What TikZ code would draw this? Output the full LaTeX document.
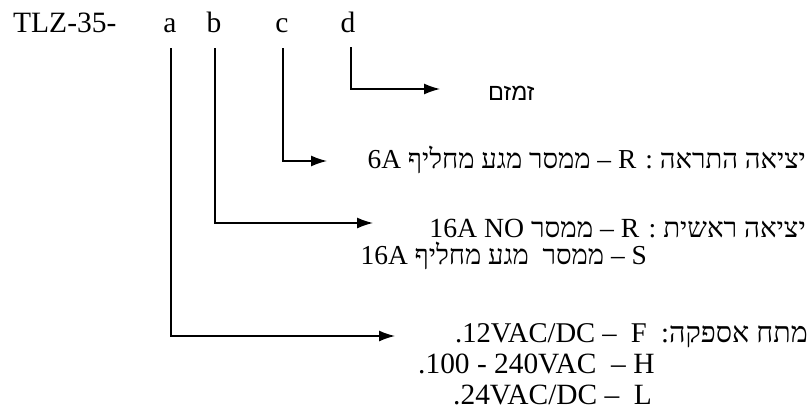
\documentclass[tikz,border=0pt]{standalone}
\usepackage{fontspec}
\setmainfont{Liberation Serif}
\newfontfamily\heb[Script=Hebrew]{Liberation Serif}
\newfontfamily\hebsans[Script=Hebrew]{Liberation Sans}
\TeXXeTstate=1
\usetikzlibrary{arrows.meta}
\newcommand{\fsz}[1]{\fontsize{#1}{#1}\selectfont}
\tikzset{
  conn/.style={line width=1.4pt,-{Latex[length=16pt,width=11pt]}},
  lbl/.style={inner sep=0pt,anchor=base east},
  top/.style={inner sep=0pt,font=\rmfamily\fsz{29.5}},
}
\begin{document}
\begin{tikzpicture}[x=1pt,y=-1pt]
\useasboundingbox (0,0) rectangle (809,418);
% header
\node[top,anchor=base west] (tlz) at (13,32) {TLZ-35-};
\node[top,anchor=base] (a) at (170,32) {a};
\node[top,anchor=base] (b) at (214,32) {b};
\node[top,anchor=base] (c) at (282,32) {c};
\node[top,anchor=base] (d) at (348,32) {d};
% start points below letters
\coordinate (a0) at (171,48);
\coordinate (b0) at (215,48);
\coordinate (c0) at (283,48);
\coordinate (d0) at (351,47);
% arrow ends
\coordinate (dend) at (440,89);
\coordinate (cend) at (327,161);
\coordinate (bend) at (373,223);
\coordinate (aend) at (395,336);
\draw[conn] (d0) |- (dend);
\draw[conn] (c0) |- (cend);
\draw[conn] (b0) |- (bend);
\draw[conn] (a0) |- (aend);
% texts
\node[inner sep=0pt,anchor=base west,font=\hebsans\fsz{23.5}] (td) at (488,100) {\beginR זמזם\endR};
\node[lbl,font=\heb\fsz{27.4}] (tc) at (806,168) {\beginR יציאה התראה : R – ממסר מגע מחליף 6A\endR};
\node[lbl,font=\heb\fsz{27.7}] (tb1) at (806,237) {\beginR יציאה ראשית : R – ממסר \beginL 16A NO\endL\endR};
\node[lbl,font=\heb\fsz{27.4}] (tb2) at (647,264) {\beginR S – ממסר\ \ מגע מחליף 16A\endR};
\node[lbl,font=\heb\fsz{28.6}] (ta1) at (808,342) {\beginR מתח אספקה\hbox{:}\ \ F\ \ – 12VAC/DC\hbox{.}\endR};
\node[lbl,anchor=base west,font=\rmfamily\fsz{29.4}] (ta2) at (418,373) {.100 - 240VAC\ \ – H};
\node[lbl,anchor=base west,font=\rmfamily\fsz{29.4}] (ta3) at (453,404) {.24VAC/DC –\ \ L};
\end{tikzpicture}
\end{document}
